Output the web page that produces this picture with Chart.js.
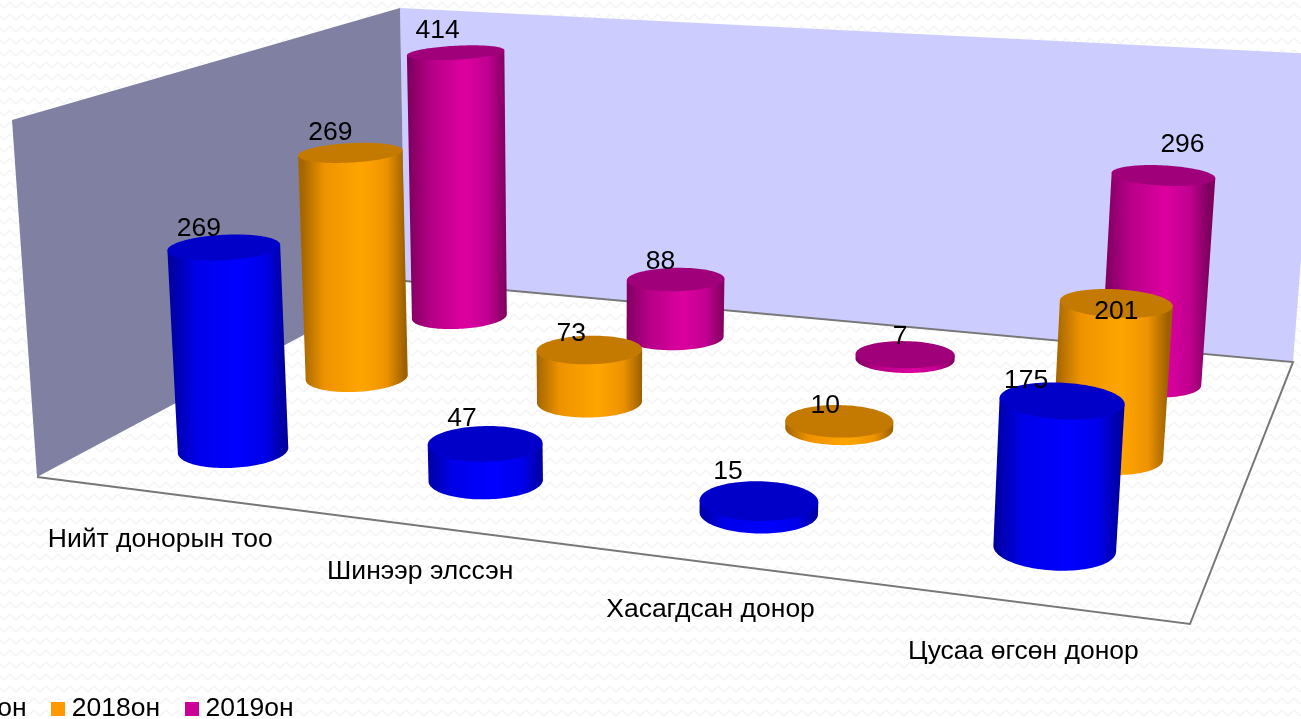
<!DOCTYPE html>
<html><head><meta charset="utf-8">
<style>html,body{margin:0;padding:0;background:#fff;overflow:hidden;width:1301px;height:719px}
#w{position:absolute;left:-107px;top:0;width:1408px;height:732px}</style>
<script src="https://cdn.jsdelivr.net/npm/chart.js@4"></script></head>
<body><div id="w"><canvas id="c" width="1408" height="732"></canvas></div>
<script>
const categories = ["Нийт донорын тоо","Шинээр элссэн","Хасагдсан донор","Цусаа өгсөн донор"];
// Bar heights.
const series2017 = [269,47,15,175];
const series2018 = [325,73,10,201]; // first orange bar is drawn taller than its printed label (269) says
const series2019 = [414,88,7,296];
// Numbers as printed above the bars.
const printed2017 = [269,47,15,175];
const printed2018 = [269,73,10,201];
const printed2019 = [414,88,7,296];
const seriesNames = ["2017он","2018он","2019он"];
const VALUE_MAX = 460;

const OFF = 107, FONT_PX = 26.5, FAMILY='"Liberation Sans", Arial, sans-serif', FONT = FONT_PX+'px '+FAMILY;
const printed=[printed2017,printed2018,printed2019];
const F = {fl:[37,477],fr:[1190,624],br:[1293,362],bl:[405,281]};
const C = {fl:[12,120],fr:[1218,206],br:[1317,54],bl:[400,8]};
function homography(q){
  const [x0,y0]=q.fl,[x1,y1]=q.fr,[x2,y2]=q.br,[x3,y3]=q.bl;
  const dx1=x1-x2,dx2=x3-x2,sx=x0-x1+x2-x3,dy1=y1-y2,dy2=y3-y2,sy=y0-y1+y2-y3;
  const d=dx1*dy2-dx2*dy1,g=(sx*dy2-dx2*sy)/d,h=(dx1*sy-sx*dy1)/d;
  const a=x1-x0+g*x1,b=x3-x0+h*x3,e=y1-y0+g*y1,f=y3-y0+h*y3;
  return (u,v)=>{const w=g*u+h*v+1;return [(a*u+b*v+x0)/w,(e*u+f*v+y0)/w];};
}
const floorH=homography(F), ceilH=homography(C);
function proj(u,v,h){const p=floorH(u,v),q=ceilH(u,v);return [p[0]+(q[0]-p[0])*h,p[1]+(q[1]-p[1])*h];}
function heightFrac(bar,a,v){return (bar.base-bar.y)/a.height*(1+0.02*v);}

const R_U=0.052,N=120;
const DEPTH=[1/6,3/6,5/6];
const looks=[
 {top:'#0000c8',stops:['#0000a4','#0000ea','#0000ff','#0000ea','#0000a0']},
 {top:'#c47a00',stops:['#a46600','#ee9300','#ffa500','#ee9300','#9c6000']},
 {top:'#a0007a',stops:['#800060','#b40086','#dd00a0','#c00090','#80005f']}];
const labelNudge=[
 [[-25,-19],[-23,-25],[-31,-29],[-36,-20]],
 [[-20,-20],[-18,-16],[-14,-16],[0,8]],
 [[-18,-22],[-15,-18],[-5,-18],[19,-31]]];
const catNudge=[[-1,0],[-5,-2],[-1,0],[0,2]];

function ellipse(u,v,h){
  const ru=R_U*(1.115-0.18*u),c=proj(u,v,h);
  const rx=Math.abs(proj(u+ru,v,h)[0]-proj(u-ru,v,h)[0])/2, ry=rx*(0.12+0.00043*c[1]), tau=(u-0.5)*0.14;
  const pts=[];
  for(let i=0;i<N;i++){const t=i/N*2*Math.PI,ca=Math.cos(t)*rx,sa=Math.sin(t)*ry;
    pts.push([c[0]+ca*Math.cos(tau)-sa*Math.sin(tau),c[1]+ca*Math.sin(tau)+sa*Math.cos(tau)]);}
  return pts;
}
class Cylinder3D extends Chart.BarController{
  draw(){
    const chart=this.chart,ctx=chart.ctx,a=chart.chartArea,meta=this.getMeta(),s=this.index,look=looks[s];
    ctx.save();ctx.translate(OFF,0);
    meta.data.forEach(bar=>{
      const u=(bar.x-a.left)/a.width,v=DEPTH[s],h=heightFrac(bar,a,v);
      const bot=ellipse(u,v,0),top=ellipse(u,v,h);
      const ext=(arr,sgn)=>arr.reduce((b,p,i)=>sgn*p[0]>sgn*arr[b][0]?i:b,0);
      const rb=ext(bot,1),lb=ext(bot,-1),rt=ext(top,1),lt=ext(top,-1);
      const gl=(top[lt][0]+bot[lb][0])/2,gr=(top[rt][0]+bot[rb][0])/2;
      const g=ctx.createLinearGradient(gl,0,gr,0);
      [0,.22,.58,.82,1].forEach((o,i)=>g.addColorStop(o,look.stops[i]));
      ctx.beginPath();ctx.moveTo(...top[lt]);ctx.lineTo(...top[rt]);ctx.lineTo(...bot[rb]);
      for(let i=rb;i!==lb;i=(i+1)%N)ctx.lineTo(...bot[i]);
      ctx.lineTo(...bot[lb]);ctx.closePath();ctx.fillStyle=g;ctx.fill();
      ctx.beginPath();top.forEach((p,i)=>i?ctx.lineTo(...p):ctx.moveTo(...p));ctx.closePath();
      ctx.fillStyle=look.top;ctx.fill();
    });
    ctx.restore();
  }
}
Cylinder3D.id='cylinder3d';Cylinder3D.defaults=Chart.BarController.defaults;
Chart.register(Cylinder3D);

function wave(){const c=document.createElement('canvas');c.width=12;c.height=12;const x=c.getContext('2d');
  x.fillStyle='#fff';x.fillRect(0,0,12,12);x.strokeStyle='#f4f4f4';x.lineWidth=1.6;
  x.beginPath();for(let i=0;i<=12;i++){const yy=5+2.5*Math.sin(i/12*2*Math.PI);i?x.lineTo(i,yy):x.moveTo(i,yy);}x.stroke();return c;}
const room={id:'room',
  beforeDraw(chart){
    const ctx=chart.ctx;ctx.save();
    ctx.fillStyle=ctx.createPattern(wave(),'repeat');ctx.fillRect(0,0,chart.width,chart.height);
    ctx.restore();
  },
  beforeDatasetsDraw(chart){
    const ctx=chart.ctx;ctx.save();
    ctx.translate(OFF,0);
    const poly=(pts,fill)=>{ctx.beginPath();pts.forEach((p,i)=>i?ctx.lineTo(...p):ctx.moveTo(...p));ctx.closePath();ctx.fillStyle=fill;ctx.fill();};
    poly([C.bl,C.br,F.br,F.bl],'#ccccff');
    poly([C.fl,C.bl,F.bl,F.fl],'#8080a2');
    ctx.strokeStyle='#777';ctx.lineWidth=2;ctx.lineJoin='miter';
    ctx.beginPath();ctx.moveTo(...F.fl);ctx.lineTo(...F.fr);ctx.lineTo(...F.br);ctx.lineTo(...F.bl);ctx.stroke();
    ctx.restore();
  },
  afterDatasetsDraw(chart){
    const ctx=chart.ctx,a=chart.chartArea;ctx.save();ctx.translate(OFF,0);
    ctx.font=FONT;ctx.fillStyle='#000';ctx.textAlign='center';ctx.textBaseline='middle';
    chart.data.datasets.forEach((d,s)=>chart.getDatasetMeta(s).data.forEach((bar,i)=>{
      const p=proj((bar.x-a.left)/a.width,DEPTH[s],heightFrac(bar,a,DEPTH[s]));
      ctx.fillText(printed[s][i],p[0]+labelNudge[s][i][0],p[1]+labelNudge[s][i][1]);
    }));
    const sx=chart.scales.x;
    categories.forEach((t,i)=>{const p=proj((sx.getPixelForValue(i)-a.left)/a.width,0,0);ctx.fillText(t,p[0]+catNudge[i][0],p[1]+47+catNudge[i][1]);});
    ctx.restore();
  }};
function swatch(col){const c=document.createElement('canvas');c.width=14;c.height=14;const x=c.getContext('2d');x.fillStyle=col;x.fillRect(0,0,14,14);return c;}
const legendColors=['#0000cc','#ff9900','#cc0099'];
new Chart(document.getElementById('c'),{
  type:'cylinder3d',
  data:{labels:categories,datasets:[series2017,series2018,series2019].map((d,i)=>({label:seriesNames[i],data:d,backgroundColor:legendColors[i]}))},
  plugins:[room],
  options:{responsive:false,animation:false,
    datasets:{cylinder3d:{grouped:false}},
    scales:{x:{type:'category',display:false,offset:true},y:{type:'linear',display:false,min:0,max:VALUE_MAX}},
    plugins:{tooltip:{enabled:false},legend:{display:true,position:'bottom',align:'start',
      labels:{font:{size:FONT_PX,family:FAMILY},color:'#000',padding:31,boxWidth:1,boxHeight:14,usePointStyle:true,
        generateLabels:ch=>ch.data.datasets.map((d,i)=>({text:d.label,fillStyle:d.backgroundColor,strokeStyle:d.backgroundColor,lineWidth:0,pointStyle:swatch(d.backgroundColor),datasetIndex:i,hidden:false}))}}}
  }});
</script></body></html>
